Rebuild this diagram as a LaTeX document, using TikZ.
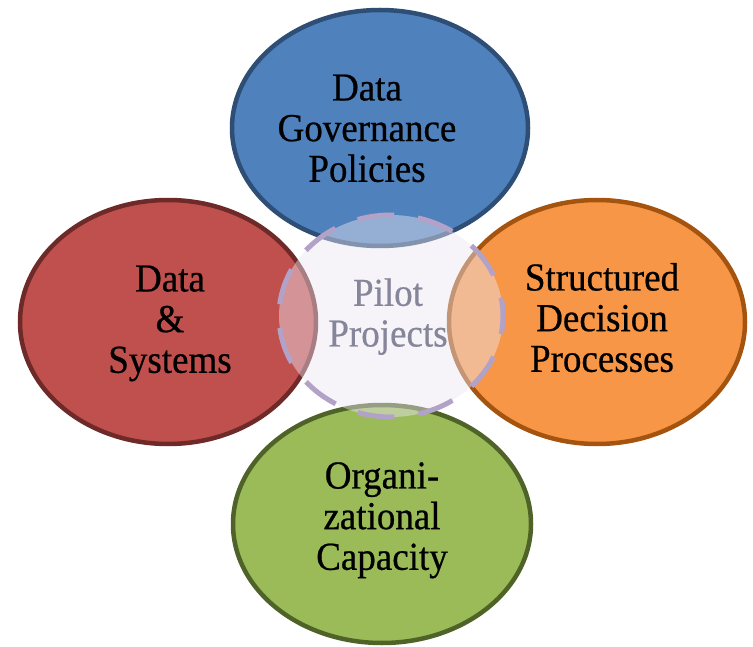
\documentclass[tikz,border=0pt]{standalone}
\usepackage{fontspec}
\setmainfont{Liberation Serif}[FakeBold=0.6]
\usepackage{graphicx}
\usetikzlibrary{shapes.geometric}
\definecolor{bfill}{HTML}{4F81BD}\definecolor{bline}{HTML}{2E4E75}
\definecolor{rfill}{HTML}{C0504D}\definecolor{rline}{HTML}{6E2A28}
\definecolor{ofill}{HTML}{F79646}\definecolor{oline}{HTML}{A5540F}
\definecolor{gfill}{HTML}{9BBB59}\definecolor{gline}{HTML}{4F6228}
\definecolor{pdash}{HTML}{B3A2C7}\definecolor{pfill}{HTML}{EBE6F2}
\definecolor{ptext}{HTML}{86869A}
\newcommand\lbltext[1]{\scalebox{1}[1.07]{\begin{tabular}{@{}c@{}}#1\end{tabular}}}
\begin{document}
\begin{tikzpicture}[x=1pt,y=-1pt,
  blob/.style={ellipse, line width=4.5pt, inner sep=0pt},
  lbl/.style={align=center, inner sep=0pt, font=\fontsize{37}{38}\selectfont, text=black},
  pilot/.style={ellipse, draw=pdash, fill=pfill, fill opacity=0.45, draw opacity=1,
     line width=5pt, dash pattern=on 37pt off 23.9pt, dash phase=18.5pt,
     minimum width=224pt, minimum height=202pt}]
\useasboundingbox (0,0) rectangle (753,647);
\node[blob, draw=bline, fill=bfill, minimum width=296pt, minimum height=236pt] (gov) at (380,128) {};
\node[blob, draw=rline, fill=rfill, minimum width=296pt, minimum height=244pt] (sys) at (168,322) {};
\node[blob, draw=oline, fill=ofill, minimum width=296pt, minimum height=244pt] (dec) at (597,322) {};
\node[blob, draw=gline, fill=gfill, minimum width=298pt, minimum height=238pt] (org) at (382,524) {};
\node[pilot] (pil) at (391,316) {};
\node[lbl] (govt) at (367,133) {\lbltext{Data\\Governance\\Policies}};
\node[lbl] (syst) at (170,324) {\lbltext{Data\\\&\\Systems}};
\node[lbl] (dect) at (602,323) {\lbltext{Structured\\Decision\\Processes}};
\node[lbl] (orgt) at (382,521) {\lbltext{Organi-\\zational\\Capacity}};
\node[lbl, text=ptext] (pilt) at (388,318) {\lbltext{Pilot\\Projects}};
\end{tikzpicture}
\end{document}
